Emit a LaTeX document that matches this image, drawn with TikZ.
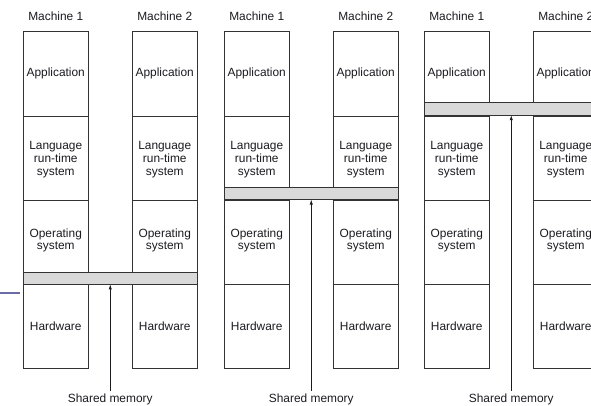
\documentclass[tikz,border=0pt]{standalone}
\usepackage{fontspec}
\setmainfont{Liberation Sans}
\usetikzlibrary{arrows.meta}
\definecolor{txt}{HTML}{1A1A20}
\definecolor{barfill}{HTML}{D9D9D9}
\definecolor{edge}{HTML}{333333}
\definecolor{purp}{HTML}{6B6BA8}
\tikzset{
  cell/.style={draw=edge, line width=0.8pt, minimum width=64.5pt, minimum height=84.2pt,
    inner sep=0pt, outer sep=0pt, anchor=north west},
  celltext/.style={text=txt, font=\fontsize{11.9}{12.7}\selectfont, align=center, inner sep=0pt},
  sharedbar/.style={draw=edge, line width=0.8pt, fill=barfill, inner sep=0pt, outer sep=0pt,
    minimum width=173.5pt, minimum height=12.3pt, anchor=north west},
  lbl/.style={text=txt, font=\fontsize{11.9}{12.7}\selectfont, inner sep=0pt},
  memarrow/.style={draw=txt, line width=0.7pt, -{Latex[length=5pt,width=3.2pt]}},
}
\begin{document}
\begin{tikzpicture}[x=1pt,y=-1pt]
\useasboundingbox (0,0) rectangle (591,405);
\clip (0,0) rectangle (591,405);
% purple fragment at left edge
\draw[purp, line width=2.5pt] (0,292.8) -- (20,292.8);
\foreach \p/\off/\bary in {1/0/272, 2/201/187.2, 3/401/102.8}{
  \foreach \m/\mx in {1/23.5, 2/132.5}{
    \pgfmathsetmacro{\X}{\off+\mx}
    \pgfmathsetmacro{\C}{\X+32.25}
    \node[lbl] (lab\p\m) at (\C,16) {Machine \m};
    \node[cell] (app\p\m) at (\X,31.7) {};
    \node[cell] (lang\p\m) at (\X,115.9) {};
    \node[cell] (os\p\m) at (\X,200.1) {};
    \node[cell] (hw\p\m) at (\X,284.3) {};
    \node[celltext] (tapp\p\m) at (\C,73.8) {Application};
    \node[celltext] (tlang\p\m) at (\C,159.5) {Language\\run-time\\system};
    \node[celltext] (tos\p\m) at (\C,240.3) {Operating\\system};
    \node[celltext] (thw\p\m) at (\C,325.8) {Hardware};
  }
  \pgfmathsetmacro{\BL}{\off+23.5}
  \node[sharedbar] (bar\p) at (\BL,\bary) {};
  \node[lbl] (sm\p) at ({\BL+86.75},399.3) {Shared memory};
  \draw[memarrow] ([yshift=3pt]sm\p.north) -- (bar\p.south);
}
\end{tikzpicture}
\end{document}
